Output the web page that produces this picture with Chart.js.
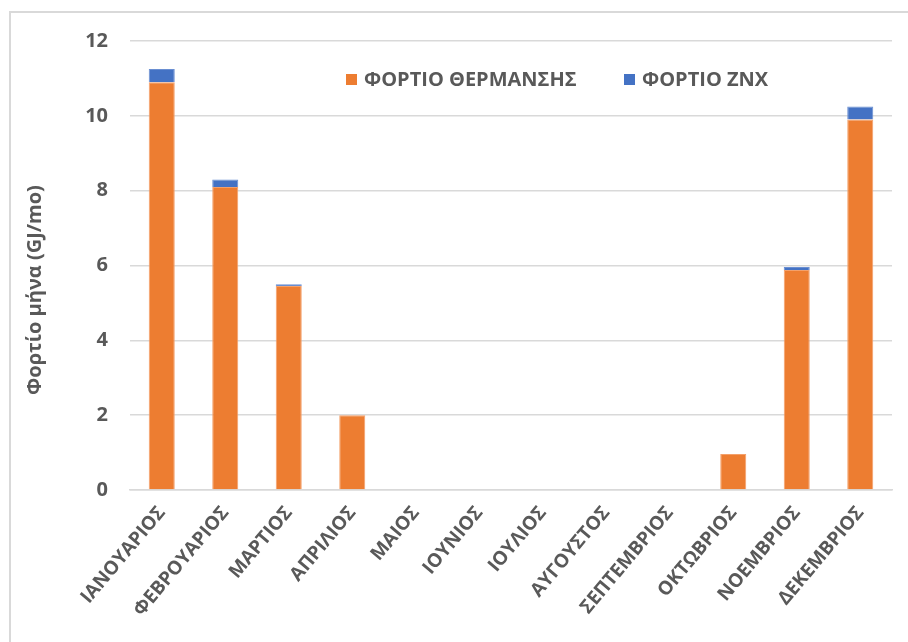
<!DOCTYPE html>
<html>
<head>
<meta charset="utf-8">
<script src="https://cdn.jsdelivr.net/npm/chart.js@4"></script>
<style>
  html, body { margin: 0; padding: 0; background: #fff; }
  #wrap { width: 908px; height: 642px; position: relative; }
</style>
</head>
<body>
<div id="wrap"><canvas id="chart" width="908" height="642"></canvas></div>
<script>
// ── Φορτίο μήνα: θέρμανση + ΖΝΧ (stacked) ──
const months = ['ΙΑΝΟΥΑΡΙΟΣ', 'ΦΕΒΡΟΥΑΡΙΟΣ', 'ΜΑΡΤΙΟΣ', 'ΑΠΡΙΛΙΟΣ', 'ΜΑΙΟΣ', 'ΙΟΥΝΙΟΣ',
  'ΙΟΥΛΙΟΣ', 'ΑΥΓΟΥΣΤΟΣ', 'ΣΕΠΤΕΜΒΡΙΟΣ', 'ΟΚΤΩΒΡΙΟΣ', 'ΝΟΕΜΒΡΙΟΣ', 'ΔΕΚΕΜΒΡΙΟΣ'];
const heating = [10.9, 8.1, 5.45, 2.0, 0, 0, 0, 0, 0, 0.96, 5.88, 9.9];
const dhw = [0.35, 0.2, 0.05, 0, 0, 0, 0, 0, 0, 0, 0.08, 0.35];
const seriesNames = ['ΦΟΡΤΙΟ ΘΕΡΜΑΝΣΗΣ', 'ΦΟΡΤΙΟ ΖΝΧ'];
const yTicks = [0, 2, 4, 6, 8, 10, 12];
const yTitle = 'Φορτίο μήνα (GJ/mo)';

const FONT = '"Open Sans", "DejaVu Sans", sans-serif';
const GREY = '#595959';

// πλαίσιο γύρω από το γράφημα (όπως στο Excel)
const framePlugin = {
  id: 'frame',
  beforeDraw(chart) {
    const c = chart.ctx;
    c.save();
    c.strokeStyle = '#d9d9d9';
    c.lineWidth = 2;
    c.beginPath();
    c.moveTo(10, chart.height + 5);
    c.lineTo(10, 12);
    c.lineTo(chart.width + 5, 12);
    c.stroke();
    c.restore();
  },
};

// υπόμνημα μέσα στην περιοχή σχεδίασης + τίτλος άξονα y
const legendPlugin = {
  id: 'innerLegend',
  afterDraw(chart) {
    const c = chart.ctx;
    const items = [[346, 0], [624, 1]];
    c.save();
    c.font = 'bold 20px ' + FONT;
    c.textBaseline = 'middle';
    items.forEach(([x, i]) => {
      const ds = chart.data.datasets[i];
      c.fillStyle = ds.backgroundColor;
      c.fillRect(x, 74, 11, 11);
      c.fillStyle = GREY;
      c.fillText(ds.label, x + 18, 80);
    });
    // τίτλος άξονα y
    c.translate(35, 290);
    c.rotate(-Math.PI / 2);
    c.textAlign = 'center';
    c.font = 'bold 20px ' + FONT;
    c.fillText(yTitle, 0, 0);
    c.restore();
  },
};

new Chart(document.getElementById('chart').getContext('2d'), {
  type: 'bar',
  data: {
    labels: months,
    datasets: [
      { label: seriesNames[0], data: heating, backgroundColor: '#ED7D31', borderColor: '#F4A06A', borderWidth: 1, borderSkipped: 'bottom' },
      { label: seriesNames[1], data: dhw, backgroundColor: '#4472C4', borderColor: '#6A8FD2', borderWidth: 1, borderSkipped: 'bottom' },
    ],
  },
  options: {
    responsive: false,
    animation: false,
    layout: { padding: { left: 0, top: 41, right: 16, bottom: 0 } },
    plugins: { legend: { display: false }, tooltip: { enabled: false } },
    datasets: { bar: { categoryPercentage: 1, barPercentage: 0.41 } },
    scales: {
      x: {
        stacked: true,
        grid: { display: false, drawTicks: false },
        border: { color: '#d9d9d9', width: 1.5 },
        ticks: {
          color: GREY, maxRotation: 50, minRotation: 50, padding: 12, autoSkip: false,
          font: { family: FONT, size: 19, weight: 'bold' },
        },
        afterFit(axis) { axis.height = 152; },
      },
      y: {
        stacked: true,
        min: 0, max: 12,
        afterBuildTicks(axis) { axis.ticks = yTicks.map(v => ({ value: v })); },
        grid: { color: '#d9d9d9', lineWidth: 1.5, drawTicks: false },
        border: { display: false },
        ticks: { color: GREY, padding: 22, font: { family: FONT, size: 20, weight: 'bold' } },
        afterFit(axis) { axis.width = 130; },
      },
    },
  },
  plugins: [framePlugin, legendPlugin],
});
</script>
</body>
</html>
